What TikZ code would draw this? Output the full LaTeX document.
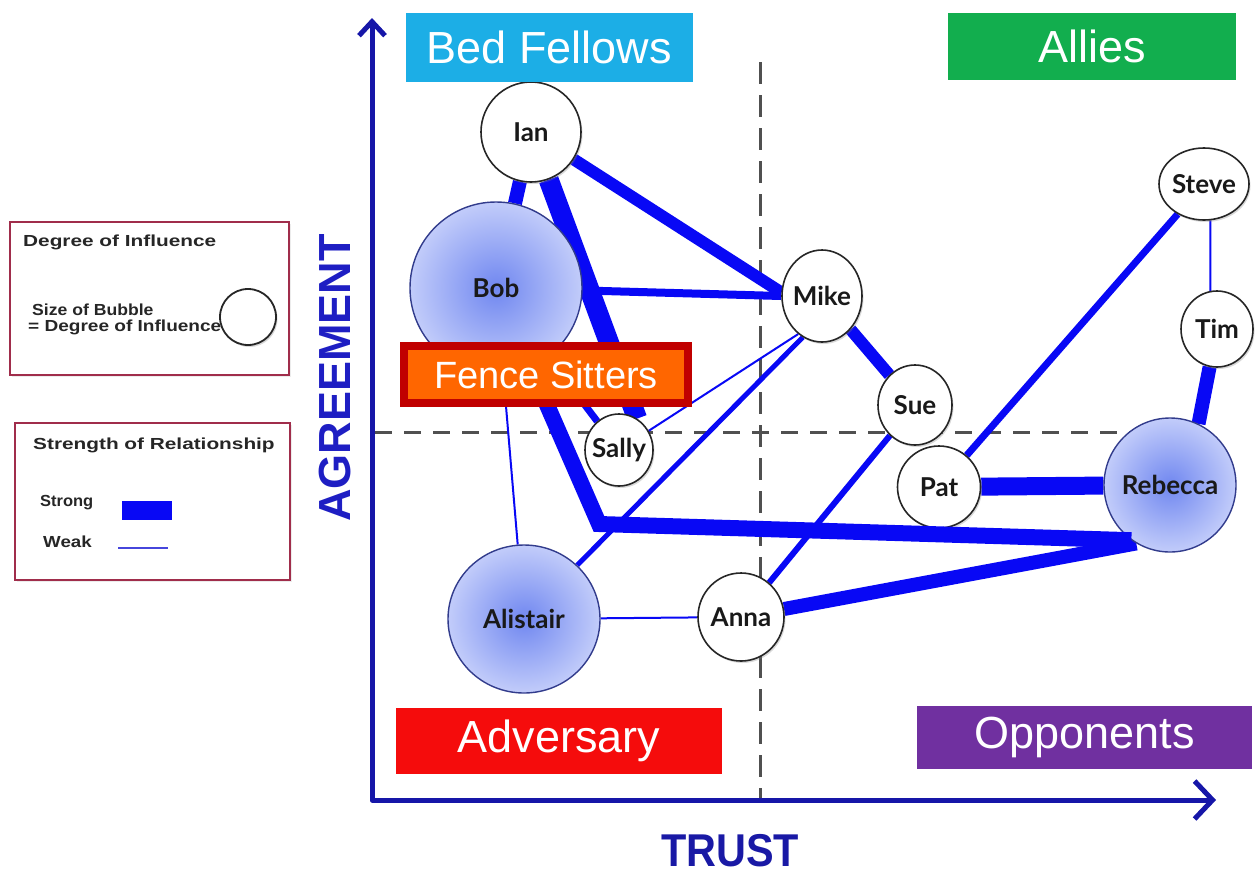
\documentclass[tikz,border=0pt]{standalone}
\usepackage{fontspec}
\setmainfont{Liberation Sans}
\newfontfamily\gillfont{Lato}
\usepackage{graphicx}
\usetikzlibrary{arrows.meta,shapes.geometric,shadows,backgrounds}
\definecolor{edgeblue}{RGB}{8,8,245}
\definecolor{weakblue}{RGB}{70,70,220}
\definecolor{axisblue}{RGB}{22,22,168}
\definecolor{agreeblue}{RGB}{30,30,195}
\definecolor{trustblue}{RGB}{25,25,165}
\definecolor{dashgray}{RGB}{80,80,80}
\definecolor{bedcyan}{RGB}{28,174,230}
\definecolor{allygreen}{RGB}{18,174,78}
\definecolor{advred}{RGB}{245,12,12}
\definecolor{opppurple}{RGB}{112,48,160}
\definecolor{fenceorange}{RGB}{255,102,0}
\definecolor{fencered}{RGB}{192,0,0}
\definecolor{legborder}{RGB}{160,45,75}
\definecolor{bubin}{RGB}{112,135,240}
\definecolor{bubout}{RGB}{194,204,250}
\definecolor{bubborder}{RGB}{50,60,140}
\begin{document}
\begin{tikzpicture}[x=1pt,y=-1pt,
  rel/.style={draw=edgeblue, line width=#1},
  person/.style={ellipse, draw=black!85, line width=1.6pt, fill=white, inner sep=0pt,
    drop shadow={shadow xshift=1.5pt, shadow yshift=-2pt, opacity=0.3}},
  bigperson/.style={ellipse, draw=bubborder, line width=1.4pt, inner color=bubin, outer color=bubout, inner sep=0pt},
  pname/.style={font=\gillfont\bfseries\fontsize{26}{26}\selectfont, text=black!90, inner sep=0pt},
  who/.style={label={[pname]center:#1}},
  catbox/.style={fill=#1, text=white, font=\fontsize{45}{45}\selectfont, inner sep=0pt},
  legbox/.style={draw=legborder, line width=1.8pt, fill=white, inner sep=0pt,
    drop shadow={shadow xshift=2pt, shadow yshift=-2pt, opacity=0.15}},
  legtext/.style={font=\bfseries\fontsize{16}{16}\selectfont, anchor=west, inner sep=0pt, text=black!85},
  quadline/.style={draw=dashgray, line width=3pt}
]
\useasboundingbox (0,0) rectangle (1255,879);

% legend
\node[legbox, minimum width=279pt, minimum height=153pt] (leg1) at (149.5,298.5) {};
\node[legbox, minimum width=275pt, minimum height=157pt] (leg2) at (152.5,501.5) {};
\node[legtext] (legt1) at (23,242) {\scalebox{1.30}[1]{Degree of Influence}};
\node[legtext] (legt2) at (32,310) {\scalebox{1.10}[1]{Size of Bubble}};
\node[legtext] (legt3) at (28,327) {\scalebox{1.19}[1]{= Degree of Influence}};
\node[circle, draw=black!85, line width=1.8pt, fill=white, minimum size=56pt, inner sep=0pt,
  drop shadow={shadow xshift=1.5pt, shadow yshift=-2pt, opacity=0.3}] (legcirc) at (248,317) {};
\node[legtext] (legt4) at (33,445) {\scalebox{1.30}[1]{Strength of Relationship}};
\node[legtext] (legt5) at (40,503) {\scalebox{1.03}[1]{Strong}};
\node[legtext] (legt6) at (43,542) {\scalebox{1.17}[1]{Weak}};
\node[fill=edgeblue, minimum width=50pt, minimum height=19pt, inner sep=0pt] (strongbar) at (147,510) {};
\coordinate (weakA) at (118,548);
\coordinate (weakB) at (168,548);
\draw[weakblue, line width=2pt] (weakA) -- (weakB);

% axes
\coordinate (ytip) at (372,18);
\coordinate (orig) at (372,800);
\coordinate (xtip) at (1216,800);
\draw[axisblue, line width=5pt, line join=round,
  {Straight Barb[length=14pt,width=26pt]}-{Straight Barb[length=18pt,width=38pt]}] (ytip) -- (orig) -- (xtip);
\node[rotate=90, font=\bfseries\fontsize{45}{45}\selectfont, text=agreeblue, inner sep=0pt] (agree) at (335,378) {AGREEMENT};
\node[font=\bfseries\fontsize{46}{46}\selectfont, text=trustblue, inner sep=0pt] (trust) at (730,851) {\scalebox{0.9}[1]{TRUST}};

% people
\node[person, minimum width=100pt, minimum height=100pt, who=Ian] (ian) at (531,132) {};
\node[bigperson, minimum width=172pt, minimum height=172pt, who=Bob] (bob) at (496,288) {};
\node[person, minimum width=80pt, minimum height=92pt, who=Mike] (mike) at (822,296) {};
\node[person, minimum width=68pt, minimum height=72pt, who=Sally] (sally) at (619,450) {};
\node[person, minimum width=74pt, minimum height=80pt, who=Sue] (sue) at (915,405) {};
\node[person, minimum width=83pt, minimum height=82pt, who=Pat] (pat) at (939,487) {};
\node[person, minimum width=86pt, minimum height=88pt, who=Anna] (anna) at (741,617) {};
\node[bigperson, minimum width=152pt, minimum height=148pt, who=Alistair] (alistair) at (524,619) {};
\node[bigperson, minimum width=132pt, minimum height=134pt, who=Rebecca] (rebecca) at (1170,485) {};
\node[person, minimum width=90pt, minimum height=72pt, who=Steve] (steve) at (1204,184) {};
\node[person, minimum width=72pt, minimum height=76pt, who=Tim] (tim) at (1217,329) {};

\begin{scope}[on background layer]
  \coordinate (vtop) at (760,62);
  \coordinate (vbot) at (760,798);
  \coordinate (hleft) at (375,432);
  \coordinate (hright) at (1135,432);
  \draw[quadline, dash pattern=on 22pt off 11pt] (vtop) -- (vbot);
  \draw[quadline, dash pattern=on 17pt off 12pt] (hleft) -- (hright);
  \draw[rel=14pt] (ian) -- (bob);
  \draw[rel=20pt] (ian) -- (sally.60);
  \draw[rel=12pt] (ian) -- (mike.175);
  \draw[rel=8pt] (bob) -- (mike.west);
  \draw[rel=7pt] (bob) -- (sally);
  \draw[rel=12pt] (mike) -- (sue);
  \draw[rel=2pt] (sally) -- (mike.238);
  \draw[rel=5pt] (alistair) -- (mike.245);
  \draw[rel=2pt] (alistair) -- (bob);
  \draw[rel=2pt] (alistair) -- (anna);
  \draw[rel=6pt] (anna) -- (sue);
  \draw[rel=14pt] (anna) -- (rebecca.240);
  \draw[rel=18pt] (pat) -- (rebecca);
  \draw[rel=7pt] (pat) -- (steve);
  \draw[rel=2pt] (steve.-80) -- (tim.100);
  \draw[rel=14pt] (tim) -- (rebecca.65);
\end{scope}

\coordinate (bend) at (599,524);
\draw[rel=16pt, line join=miter] (bob) -- (bend) -- (rebecca.235);

% categories
\node[catbox=bedcyan, minimum width=287pt, minimum height=69pt] (bedf) at (549.5,47.5) {Bed Fellows};
\node[catbox=allygreen, minimum width=288pt, minimum height=67pt] (allies) at (1092,46.5) {Allies};
\node[catbox=advred, minimum width=326pt, minimum height=66pt] (advers) at (559,741) {Adversary};
\node[catbox=opppurple, minimum width=335pt, minimum height=63pt] (oppon) at (1084.5,737.5) {Opponents};
\node[fill=fenceorange, draw=fencered, line width=8pt, text=white, font=\fontsize{38}{38}\selectfont,
  inner sep=0pt, minimum width=284pt, minimum height=57pt] (fence) at (546,374.5) {Fence Sitters};
\end{tikzpicture}
\end{document}
